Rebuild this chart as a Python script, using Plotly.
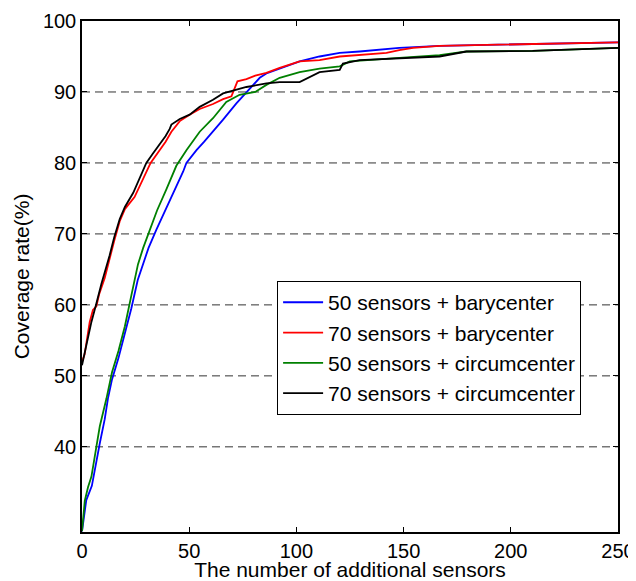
import plotly.graph_objects as go

# 50 sensors + barycenter
x_b50 = [0, 2, 4.6, 6.7, 8.3, 10.6, 12.1, 14, 17, 20, 23, 26, 28.5, 31, 34.7, 40, 44, 47.2, 48.7,
         53.4, 57, 61.1, 65.8, 72, 78.2, 82.9, 86, 92.2, 101.5, 110.8, 120.2, 129.5, 148, 166.8,
         195, 230.6, 250]
y_b50 = [28.1, 32.5, 34.5, 38.1, 40.5, 43.9, 46.8, 49.5, 52.5, 56, 59.5, 63.5, 65.7, 68, 70.6,
         74.0, 76.8, 78.8, 80, 81.8, 83, 84.4, 86.1, 88.4, 90.4, 92.0, 92.6, 93.3, 94.3, 95.0,
         95.5, 95.7, 96.2, 96.5, 96.7, 96.9, 97.0]

# 70 sensors + barycenter
x_b70 = [0, 1.2, 3.6, 5.1, 6.7, 8, 10.6, 12.9, 15, 17.6, 20, 24.5, 28, 32, 36.2, 39, 41.7, 45.6,
         50.2, 54.9, 61.1, 65.8, 69.7, 71, 72.5, 76.7, 80.8, 86, 92.2, 101.5, 110.8, 120.2, 129.5,
         142, 148, 154.4, 166.8, 195, 230.6, 250]
y_b70 = [52, 53, 57.6, 59.3, 59.8, 61.5, 63.8, 66.7, 69, 71.8, 73.5, 75.2, 77.5, 80, 81.8, 83,
         84.4, 85.9, 86.8, 87.6, 88.3, 89.0, 89.4, 90.5, 91.5, 91.8, 92.3, 92.7, 93.4, 94.3, 94.5,
         95.0, 95.2, 95.5, 95.9, 96.2, 96.5, 96.7, 96.9, 97.0]

# 50 sensors + circumcenter
x_c50 = [0, 1.3, 2.8, 4.4, 6.7, 8.3, 11.4, 14, 17, 20, 23, 26.1, 28.5, 31.6, 35, 39.4, 44, 48.7,
         54.9, 61.1, 64.2, 67.3, 73.5, 80.8, 86, 92.2, 101.5, 110.8, 120.2, 124.9, 148, 166.8,
         179.3, 210, 250]
y_c50 = [28.1, 32.4, 34.3, 35.8, 40, 42.9, 46.8, 50.5, 53.5, 57, 61.3, 65.7, 68, 70.6, 73.3, 76.3,
         79.6, 81.8, 84.4, 86.3, 87.5, 88.6, 89.6, 90.0, 91.0, 92.0, 92.8, 93.3, 93.6, 94.3, 94.8,
         95.2, 95.7, 95.8, 96.2]

# 70 sensors + circumcenter
x_c70 = [0, 2, 4.4, 6.7, 9, 12.9, 15, 17.6, 20, 23.9, 27, 30, 33, 36.2, 39, 40.9, 41.7, 45.6,
         50.2, 54.9, 61.1, 65.8, 70.4, 76.7, 86, 92.2, 101.5, 106.1, 110.8, 120.2, 121.7, 129.5,
         148, 166.8, 179.3, 210.3, 250]
y_c70 = [51.5, 54.4, 57.6, 60.2, 62.9, 67, 69.5, 72.1, 73.8, 75.8, 78, 80, 81.3, 82.6, 83.8, 84.8,
         85.4, 86.2, 86.8, 87.9, 88.9, 89.8, 90.2, 90.7, 91.2, 91.4, 91.4, 92.1, 92.8, 93.1, 94.0,
         94.5, 94.8, 95.0, 95.7, 95.8, 96.2]

series = [
    ("50 sensors + barycenter", x_b50, y_b50, "#0000ff"),
    ("70 sensors + barycenter", x_b70, y_b70, "#ff0000"),
    ("50 sensors + circumcenter", x_c50, y_c50, "#008000"),
    ("70 sensors + circumcenter", x_c70, y_c70, "#000000"),
]

x_ticks = [0, 50, 100, 150, 200, 250]
y_ticks = [40, 50, 60, 70, 80, 90, 100]

FONT = "Arial, 'Liberation Sans', Helvetica, sans-serif"

fig = go.Figure()
for name, xs, ys, color in series:
    fig.add_trace(go.Scatter(x=xs, y=ys, name=name, mode="lines",
                             line=dict(color=color, width=1.8)))

# dashed horizontal grid, like the matlab export
for v in y_ticks[:-1]:
    fig.add_hline(y=v, line=dict(color="#333333", width=1, dash="8px,5px"), layer="below")

# page body has an 8px margin, so the figure is a bit smaller than the window
fig.update_layout(
    width=628, height=573,
    margin=dict(l=74, r=18, t=13, b=49),
    plot_bgcolor="white", paper_bgcolor="white",
    font=dict(family=FONT, size=20, color="black"),
    legend=dict(x=0.364, y=0.491, xanchor="left", yanchor="top",
                bgcolor="white", bordercolor="black", borderwidth=1,
                font=dict(size=21), itemwidth=40, tracegroupgap=0),
)
fig.update_xaxes(range=[0, 250], tickvals=x_ticks, showgrid=False, zeroline=False,
                 showline=True, linecolor="black", linewidth=1.5, mirror="ticks",
                 ticks="inside", ticklen=5, tickcolor="black", tickfont=dict(size=20),
                 automargin=False,
                 title=dict(text="The number of additional sensors", font=dict(size=21), standoff=5))
fig.update_yaxes(range=[28, 100], tickvals=y_ticks, showgrid=False, zeroline=False,
                 showline=True, linecolor="black", linewidth=1.5, mirror="ticks",
                 ticks="inside", ticklen=5, tickcolor="black", tickfont=dict(size=20),
                 automargin=False,
                 title=dict(text="Coverage rate(%)", font=dict(size=21), standoff=8))

fig.write_html("out.html")
